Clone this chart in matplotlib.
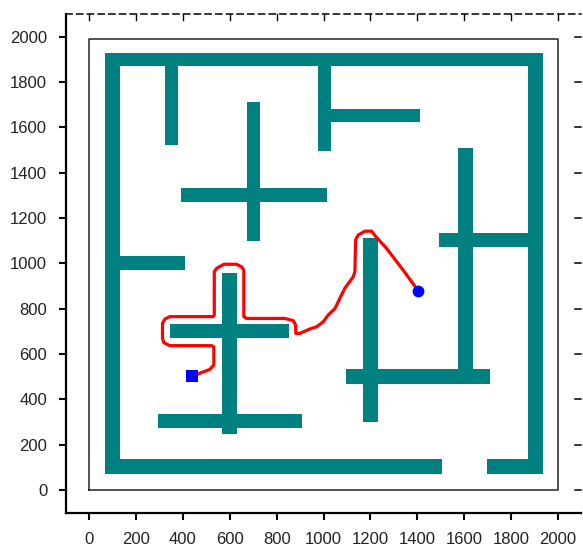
'''
Robot path through a walled maze
'''
import matplotlib
matplotlib.use('Agg')
import matplotlib.pyplot as plt
from matplotlib.patches import Rectangle

# walls as x start, x end, y start, y end
wall_x0 = [67, 67, 1874, 67, 1696, 323, 975, 1031, 673, 391, 1574, 1492, 131, 568, 347, 293, 1168, 1095]
wall_x1 = [1938, 131, 1938, 1505, 1938, 379, 1031, 1411, 729, 1014, 1638, 1876, 408, 633, 854, 908, 1233, 1710]
wall_y0 = [1871, 70, 70, 70, 70, 1522, 1495, 1623, 1098, 1270, 520, 1072, 970, 247, 670, 273, 300, 468]
wall_y1 = [1930, 1930, 1930, 137, 137, 1871, 1871, 1680, 1711, 1332, 1508, 1133, 1032, 958, 731, 335, 1110, 534]

# outer border of the arena
border_x = [0, 2000, 2000, 0, 0]
border_y = [0, 0, 1990, 1990, 0]

# robot path
path_x = [441, 472, 515, 532, 532, 522, 344, 319, 313, 313, 323, 344, 529, 534, 534, 544, 575, 629,
          650, 660, 660, 672, 835, 871, 881, 882, 899, 921, 941, 970, 999, 1020, 1049, 1070, 1091,
          1127, 1134, 1137, 1148, 1177, 1205, 1224, 1269, 1340, 1404]
path_y = [500, 515, 532, 551, 632, 637, 637, 650, 669, 735, 754, 765, 765, 772, 963, 978, 996, 996,
          985, 970, 765, 757, 757, 747, 728, 691, 691, 701, 710, 720, 742, 772, 801, 846, 890,
          941, 963, 1103, 1125, 1142, 1142, 1117, 1066, 970, 879]

start_x, start_y = 438, 501
goal_x, goal_y = 1404, 878

ticks = list(range(0, 2001, 200))

plt.rcParams['font.family'] = ['Liberation Sans', 'DejaVu Sans']

fig = plt.figure(figsize=(5.83, 5.52), dpi=100)
ax = fig.add_axes([65.7 / 583, 39.3 / 552, 515.6 / 583, 498.7 / 552])

for x0, x1, y0, y1 in zip(wall_x0, wall_x1, wall_y0, wall_y1):
    ax.add_patch(Rectangle((x0, y0), x1 - x0, y1 - y0, facecolor='#008080', edgecolor='none', zorder=2))

ax.plot(border_x, border_y, color='#222222', lw=1.1, zorder=1)
ax.plot(path_x, path_y, color='#ff0000', lw=2.3, zorder=3)
ax.plot(start_x, start_y, 's', color='#0000ff', ms=8.5, mew=0, zorder=4)
ax.plot(goal_x, goal_y, 'o', color='#0000ff', ms=8.5, mew=0, zorder=4)

ax.set_xlim(-100, 2100)
ax.set_ylim(-100, 2100)
ax.set_xticks(ticks)
ax.set_yticks(ticks)
ax.tick_params(axis='both', length=4.8, width=1.5, labelsize=12, color='black', labelcolor='#222222')
ax.tick_params(axis='x', pad=9)
ax.tick_params(axis='y', pad=8.5)

ax.spines['left'].set_linewidth(1.6)
ax.spines['bottom'].set_linewidth(1.6)
ax.spines['right'].set_visible(False)
ax.spines['top'].set_linewidth(1.1)
ax.spines['top'].set_linestyle((0, (4, 3)))

# short marks along the top and right edges
for t in ticks:
    ax.plot([t, t], [2100, 2075], color='black', lw=1, clip_on=False, zorder=1)
    ax.plot([2075, 2100], [t, t], color='black', lw=1.1, clip_on=False, zorder=1)

fig.savefig('out.png', dpi=100)
